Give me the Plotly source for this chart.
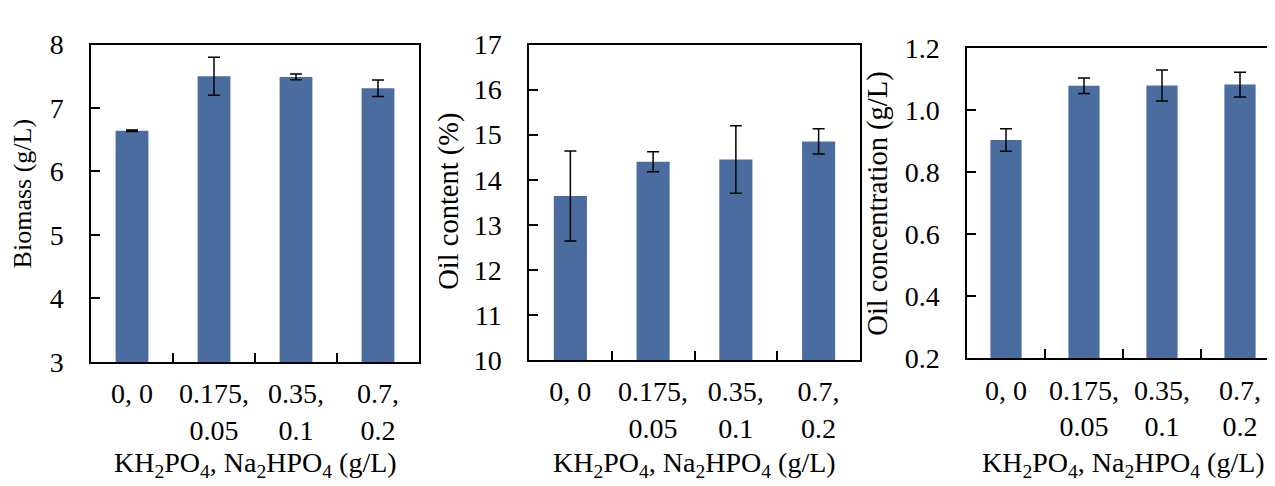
import plotly.graph_objects as go

categories = ["0, 0", "0.175,<br>0.05", "0.35,<br>0.1", "0.7,<br>0.2"]
biomass = [6.64, 7.50, 7.49, 7.31]
biomass_err = [0.012, 0.30, 0.045, 0.13]
oil_content = [13.64, 14.40, 14.45, 14.85]
oil_content_err = [1.0, 0.22, 0.75, 0.28]
oil_conc = [0.904, 1.079, 1.080, 1.083]
oil_conc_err = [0.036, 0.025, 0.05, 0.04]

W, H = 1275, 486
FONT = "Liberation Serif"
BAR = "#4a6c9f"
TICK = 28
TITLE = 28

panels = [
    dict(y=biomass, e=biomass_err, x0=83, x1=411, yt=23, yb=362, rng=[3, 8], dt=1, fmt="", title="Biomass (g/L)", tx=14, ty=182, ts=26),
    dict(y=oil_content, e=oil_content_err, x0=521, x1=852, yt=23, yb=360, rng=[10, 17], dt=1, fmt="", title="Oil content (%)", tx=441, ty=191, ts=28.5),
    dict(y=oil_conc, e=oil_conc_err, x0=959, x1=1271, yt=27, yb=358, rng=[0.2, 1.2], dt=0.2, fmt=".1f", title="Oil concentration (g/L)", tx=870, ty=193, ts=28.5),
]

fig = go.Figure()
layout = dict(width=W, height=H, margin=dict(l=0, r=0, t=0, b=0),
              paper_bgcolor="white", plot_bgcolor="white", showlegend=False,
              font=dict(family=FONT, size=TICK, color="black"))
annotations = []
for i, p in enumerate(panels, start=1):
    sfx = "" if i == 1 else str(i)
    fig.add_trace(go.Bar(x=categories, y=p["y"], xaxis="x" + sfx, yaxis="y" + sfx,
                         marker=dict(color=BAR, line=dict(width=0)), width=0.4,
                         error_y=dict(type="data", array=p["e"], visible=True,
                                      color="black", thickness=1.5, width=6)))
    layout["xaxis" + sfx] = dict(domain=[p["x0"] / W, p["x1"] / W], anchor="y" + sfx,
                                 type="category", range=[-0.5, 3.5], tickson="boundaries",
                                 ticks="inside", ticklen=9, tickwidth=1.5, tickcolor="black",
                                 showline=True, linecolor="black", linewidth=1.5, mirror=True,
                                 showgrid=False, ticklabelstandoff=6, tickangle=0,
                                 tickfont=dict(family=FONT, size=TICK))
    layout["yaxis" + sfx] = dict(domain=[1 - p["yb"] / H, 1 - p["yt"] / H], anchor="x" + sfx,
                                 range=p["rng"], dtick=p["dt"], tick0=p["rng"][0], tickformat=p["fmt"],
                                 ticks="inside", ticklen=9, tickwidth=1.5, tickcolor="black",
                                 showline=True, linecolor="black", linewidth=1.5, mirror=True,
                                 showgrid=False, zeroline=False, ticklabelstandoff=20,
                                 tickfont=dict(family=FONT, size=TICK))
    annotations.append(dict(text=p["title"], textangle=-90, xref="paper", yref="paper",
                            x=p["tx"] / W, y=1 - p["ty"] / H, xanchor="center", yanchor="middle",
                            showarrow=False, font=dict(family=FONT, size=p["ts"])))
    annotations.append(dict(text="KH<sub>2</sub>PO<sub>4</sub>, Na<sub>2</sub>HPO<sub>4</sub> (g/L)",
                            xref="paper", yref="paper", x=(p["x0"] + p["x1"]) / 2 / W,
                            y=0, yshift=-6, xanchor="center", yanchor="bottom",
                            showarrow=False, font=dict(family=FONT, size=TITLE)))
layout["annotations"] = annotations
fig.update_layout(**layout)
fig.write_html("out.html")
